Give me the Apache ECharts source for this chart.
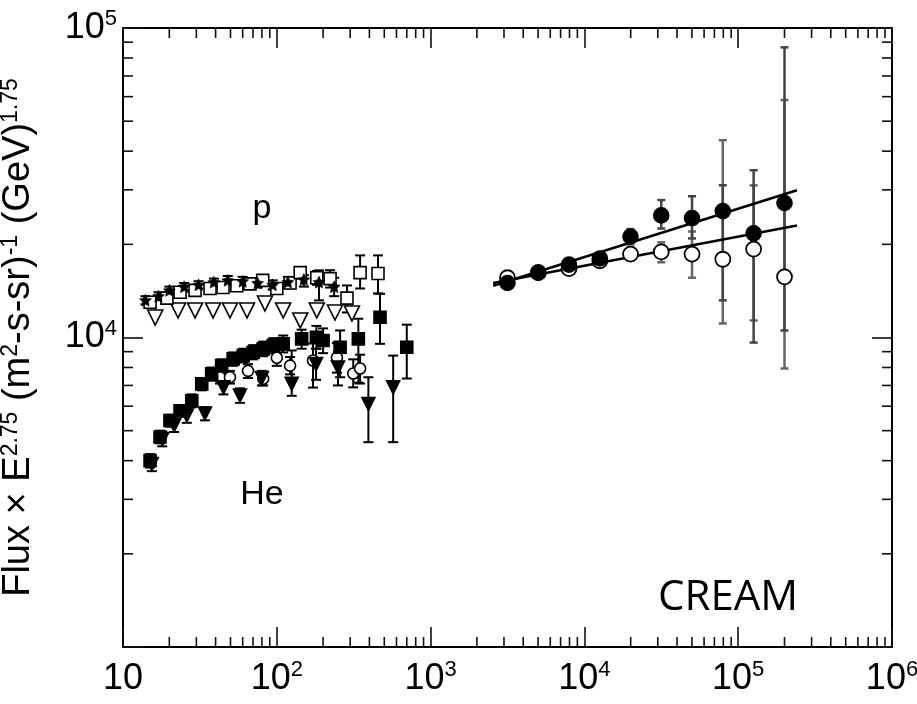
<!DOCTYPE html>
<html><head><meta charset="utf-8">
<script src="https://cdn.jsdelivr.net/npm/echarts@6/dist/echarts.min.js"></script>
<style>html,body{margin:0;padding:0;background:#fff}#c{width:917px;height:704px}</style>
</head><body><div id="c"></div>
<script>
const FONT = '"Liberation Sans", Arial, Helvetica, sans-serif';

// ---- axes ----
const xRange = [10, 1e6];
const yRange = [1e3, 1e5];
const xTickExp = [1, 2, 3, 4, 5, 6];        // labels 10, 10^2 ... 10^6
const yTickExp = [4, 5];                    // labels 10^4, 10^5 (10^3 unlabeled)
const minorMult = [2, 3, 4, 5, 6, 7, 8, 9];

// ---- left cluster: proton ----
const pSquaresE    = [15, 19.3, 23.5, 29.4, 36.8, 44.7, 55, 67, 81, 100, 122, 142, 182, 222, 286, 348, 455];
const pSquaresFlux = [13000, 13400, 14000, 14200, 14400, 14500, 14700, 14900, 15300, 14400, 15000, 16200, 15600, 15500, 13400, 16200, 16100];
const pSquaresLo   = [12600, 13000, 13600, 13800, 14000, 14100, 14300, 14400, 14800, 13900, 14400, 15500, 14800, 14500, 12050, 14400, 13880];
const pSquaresHi   = [13400, 13800, 14400, 14600, 14800, 14900, 15100, 15400, 15800, 14900, 15600, 16900, 16400, 16500, 14730, 18420, 18420];

const pTriE    = [16.2, 22.8, 29.4, 38.5, 49.6, 64, 83.7, 110, 142, 182, 239, 308];
const pTriFlux = [11600, 12230, 12230, 12230, 12230, 12230, 12880, 12230, 11350, 12230, 12040, 11960];

const pStarE    = [14, 17, 20, 25, 31, 39, 48, 60, 75, 94, 118, 150, 188, 236];
const pStarFlux = [13200, 13600, 14200, 14600, 14800, 15100, 15300, 15200, 15000, 14800, 15100, 15400, 15100, 14600];
const pStarLo   = [12800, 13200, 13800, 14200, 14400, 14700, 14800, 14700, 14500, 14300, 14500, 14600, 13180, 13600];
const pStarHi   = [13600, 14000, 14600, 15000, 15200, 15500, 15800, 15700, 15500, 15300, 15700, 15900, 16480, 15600];

// ---- left cluster: helium ----
const heSqE    = [15, 17.4, 20.2, 23.5, 28, 32.5, 37.7, 43.8, 52, 60.5, 70.3, 81.6, 94.8, 110, 145, 181, 200, 258, 339, 469, 700];
const heSqFlux = [4000, 4770, 5390, 5800, 6250, 7080, 7630, 8110, 8530, 8740, 8960, 9190, 9420, 9540, 9900, 10020, 9780, 9300, 9900, 11630, 9300];
const heSqLo   = [3800, 4550, 5150, 5550, 5950, 6750, 7250, 7700, 8100, 8300, 8500, 8700, 8900, 8950, 9200, 9200, 8900, 7440, 7150, 9540, 7370];
const heSqHi   = [4200, 5000, 5630, 6050, 6550, 7400, 8000, 8500, 8950, 9200, 9450, 9700, 9950, 10150, 10600, 10900, 10700, 10540, 11500, 13840, 11000];

const heTriE    = [15.4, 18, 21.5, 26, 34.1, 45, 57.6, 80, 125, 180, 250, 394, 571];
const heTriFlux = [3900, 4700, 5200, 5600, 5680, 6900, 6490, 7400, 7080, 8200, 8000, 6100, 6900];
const heTriLo   = [3700, 4450, 4950, 5300, 5400, 6550, 6150, 7000, 6480, 7300, 7000, 4590, 4590];
const heTriHi   = [4100, 4950, 5450, 5900, 5950, 7250, 6850, 7800, 9080, 9200, 9000, 7440, 8740];

const heOpenE    = [42.7, 49.6, 65, 81.6, 100, 122, 172, 246, 314, 348];
const heOpenFlux = [7440, 7440, 7800, 7360, 8600, 8110, 8430, 8620, 7650, 7940];
const heOpenLo   = [7100, 7100, 7400, 7000, 8100, 7600, 6890, 7700, 6900, 7100];
const heOpenHi   = [7800, 7800, 8200, 7750, 9100, 8650, 9560, 9600, 8500, 8800];

// ---- CREAM (right cluster) ----
const creamE        = [3160, 5010, 7940, 12600, 19950, 31600, 50100, 79400, 126000, 200000];
const creamFilled   = [15000, 16200, 17200, 18000, 21200, 24800, 24300, 25600, 21700, 27200];
const creamFilledLo = [14600, 15800, 16800, 17500, 20000, 22500, 20900, 13180, 9630, 10540];
const creamFilledHi = [15400, 16600, 17600, 18500, 22400, 27800, 28600, 31040, 34700, 86600];
const creamOpen     = [15600, 16200, 16700, 17700, 18600, 18900, 18600, 17900, 19300, 15700];
const creamOpenLo   = [15200, 15800, 16300, 17200, 17800, 17500, 15600, 11100, 11350, 7940];
const creamOpenHi   = [16000, 16600, 17100, 18200, 19500, 20300, 22000, 43400, 31000, 58500];

// fitted power-law lines (end points)
const fitUpperE = [2550, 241000], fitUpperFlux = [14700, 29900];
const fitLowerE = [2550, 241000], fitLowerFlux = [15000, 23000];

// ---- annotations ----
const annotText = ['p', 'He', 'CREAM'];
const annotPos  = [[80, 26000], [80, 3100], [86000, 1440]];

// ---------------------------------------------------------
const zip = (a, b) => a.map((v, i) => [v, b[i]]);
const zip3 = (a, b, c) => a.map((v, i) => [v, b[i], c[i]]);

const xMinor = [], yMinor = [];
for (let e = 1; e < 6; e++) minorMult.forEach(m => xMinor.push([m * Math.pow(10, e), yRange[0]]));
for (let e = 3; e < 5; e++) minorMult.forEach(m => yMinor.push([xRange[0], m * Math.pow(10, e)]));

function errRender(color, width, cap) {
  return function (params, api) {
    const x = api.value(0), lo = api.value(1), hi = api.value(2);
    const a = api.coord([x, lo]), b = api.coord([x, hi]);
    const st = { stroke: color, lineWidth: width };
    return { type: 'group', children: [
      { type: 'line', shape: { x1: a[0], y1: a[1], x2: b[0], y2: b[1] }, style: st },
      { type: 'line', shape: { x1: a[0] - cap, y1: a[1], x2: a[0] + cap, y2: a[1] }, style: st },
      { type: 'line', shape: { x1: b[0] - cap, y1: b[1], x2: b[0] + cap, y2: b[1] }, style: st }
    ]};
  };
}
function errSeries(data, color, width, cap) {
  return { type: 'custom', renderItem: errRender(color, width, cap), data: data,
           encode: { x: 0, y: [1, 2] }, z: 2, silent: true };
}
function scatter(data, symbol, size, filled, rot, bw) {
  return { type: 'scatter', data: data, symbol: symbol, symbolSize: size, symbolRotate: rot || 0, z: 3,
           itemStyle: { opacity: 1, color: filled ? '#000' : '#fff', borderColor: '#000', borderWidth: bw || 1.6 } };
}
function minorTicks(data, horiz) {
  return { type: 'custom', data: data, encode: { x: 0, y: 1 }, z: 4, silent: true,
    renderItem: function (params, api) {
      const st = { stroke: '#111', lineWidth: 1.6 };
      if (horiz) {
        const v = api.value(0);
        const a = api.coord([v, yRange[0]]), b = api.coord([v, yRange[1]]);
        return { type: 'group', children: [
          { type: 'line', shape: { x1: a[0], y1: a[1], x2: a[0], y2: a[1] - 10 }, style: st },
          { type: 'line', shape: { x1: b[0], y1: b[1], x2: b[0], y2: b[1] + 10 }, style: st }
        ]};
      } else {
        const v = api.value(1);
        const a = api.coord([xRange[0], v]), b = api.coord([xRange[1], v]);
        return { type: 'group', children: [
          { type: 'line', shape: { x1: a[0], y1: a[1], x2: a[0] + 10, y2: a[1] }, style: st },
          { type: 'line', shape: { x1: b[0], y1: b[1], x2: b[0] - 10, y2: b[1] }, style: st }
        ]};
      }
    } };
}

const star = 'path://M0,-10 L2.9,-4 L9.5,-3.1 L4.7,1.5 L5.9,8.1 L0,5 L-5.9,8.1 L-4.7,1.5 L-9.5,-3.1 L-2.9,-4 Z';

const rich = {
  b: { fontSize: 36, fontFamily: FONT, color: '#000', lineHeight: 40 },
  s: { fontSize: 22, fontFamily: FONT, color: '#000', lineHeight: 20, verticalAlign: 'top' }
};
function expLabel(v, list) {
  const e = Math.round(Math.log10(v));
  if (list.indexOf(e) < 0) return '';
  return e === 1 ? '{b|10}' : '{b|10}{s|' + e + '}';
}
const axisCommon = {
  type: 'log', logBase: 10,
  axisLine: { show: true, lineStyle: { color: '#000', width: 2 } },
  axisTick: { show: true, inside: true, length: 20, lineStyle: { color: '#111', width: 1.6 } },
  splitLine: { show: false }, minorTick: { show: false }
};

const chart = echarts.init(document.getElementById('c'), null, { renderer: 'canvas' });
chart.setOption({
  animation: false,
  backgroundColor: '#fff',
  grid: { left: 123, right: 25, top: 28, bottom: 57, containLabel: false, outerBoundsMode: 'none' },
  xAxis: [
    Object.assign({}, axisCommon, { position: 'bottom', min: xRange[0], max: xRange[1], splitNumber: 5,
      axisLabel: { margin: 12, formatter: v => expLabel(v, xTickExp), rich: rich } }),
    Object.assign({}, axisCommon, { position: 'top', min: xRange[0], max: xRange[1], splitNumber: 5,
      axisLabel: { show: false } })
  ],
  yAxis: [
    Object.assign({}, axisCommon, { position: 'left', min: yRange[0], max: yRange[1], splitNumber: 2,
      axisLabel: { margin: 6, formatter: v => expLabel(v, yTickExp), rich: rich },
      name: '{b|Flux × E}{s|2.75}{b| (m}{s|2}{b|-s-sr)}{s|-1}{b| (GeV)}{s|1.75}',
      nameLocation: 'middle', nameRotate: 90, nameGap: 84,
      nameTextStyle: { rich: {
        b: { fontSize: 38, fontFamily: FONT, color: '#000', lineHeight: 40 },
        s: { fontSize: 23, fontFamily: FONT, color: '#000', lineHeight: 20, verticalAlign: 'top' } } } }),
    Object.assign({}, axisCommon, { position: 'right', min: yRange[0], max: yRange[1], splitNumber: 2,
      axisLabel: { show: false } })
  ],
  series: [
    minorTicks(xMinor, true),
    minorTicks(yMinor, false),
    // error bars
    errSeries(zip3(pSquaresE, pSquaresLo, pSquaresHi), '#000', 2, 5),
    errSeries(zip3(pStarE, pStarLo, pStarHi), '#000', 2, 5),
    errSeries(zip3(heSqE, heSqLo, heSqHi), '#000', 2, 5),
    errSeries(zip3(heTriE, heTriLo, heTriHi), '#000', 2, 5),
    errSeries(zip3(heOpenE, heOpenLo, heOpenHi), '#000', 2, 5),
    errSeries(zip3(creamE, creamOpenLo, creamOpenHi), '#666', 2.5, 4),
    errSeries(zip3(creamE, creamFilledLo, creamFilledHi), '#444', 2.5, 4),
    // markers
    scatter(zip(pTriE, pTriFlux), 'triangle', 15, false, 180),
    scatter(zip(pSquaresE, pSquaresFlux), 'rect', 12, false),
    scatter(zip(pStarE, pStarFlux), star, 12, true, 0, 0.5),
    scatter(zip(heOpenE, heOpenFlux), 'circle', 11, false),
    scatter(zip(heTriE, heTriFlux), 'triangle', 13, true, 180),
    scatter(zip(heSqE, heSqFlux), 'rect', 12, true),
    // CREAM fits
    { type: 'line', data: zip(fitUpperE, fitUpperFlux), symbol: 'none', z: 3,
      lineStyle: { color: '#000', width: 2.5 } },
    { type: 'line', data: zip(fitLowerE, fitLowerFlux), symbol: 'none', z: 3,
      lineStyle: { color: '#000', width: 2.5 } },
    scatter(zip(creamE, creamOpen), 'circle', 15, false, 0, 1.8),
    scatter(zip(creamE, creamFilled), 'circle', 15, true),
    // text annotations
    { type: 'scatter', symbolSize: 0, z: 5, silent: true, itemStyle: { opacity: 1 },
      data: annotPos.map((p, i) => ({ value: p, name: annotText[i],
        label: { show: true, position: 'inside', formatter: '{b}', color: '#000', opacity: 1,
          fontFamily: i === 2 ? '"Open Sans", "Noto Sans", sans-serif' : FONT,
          fontSize: i === 2 ? 42 : 34 } })) }
  ]
});
</script>
</body></html>
